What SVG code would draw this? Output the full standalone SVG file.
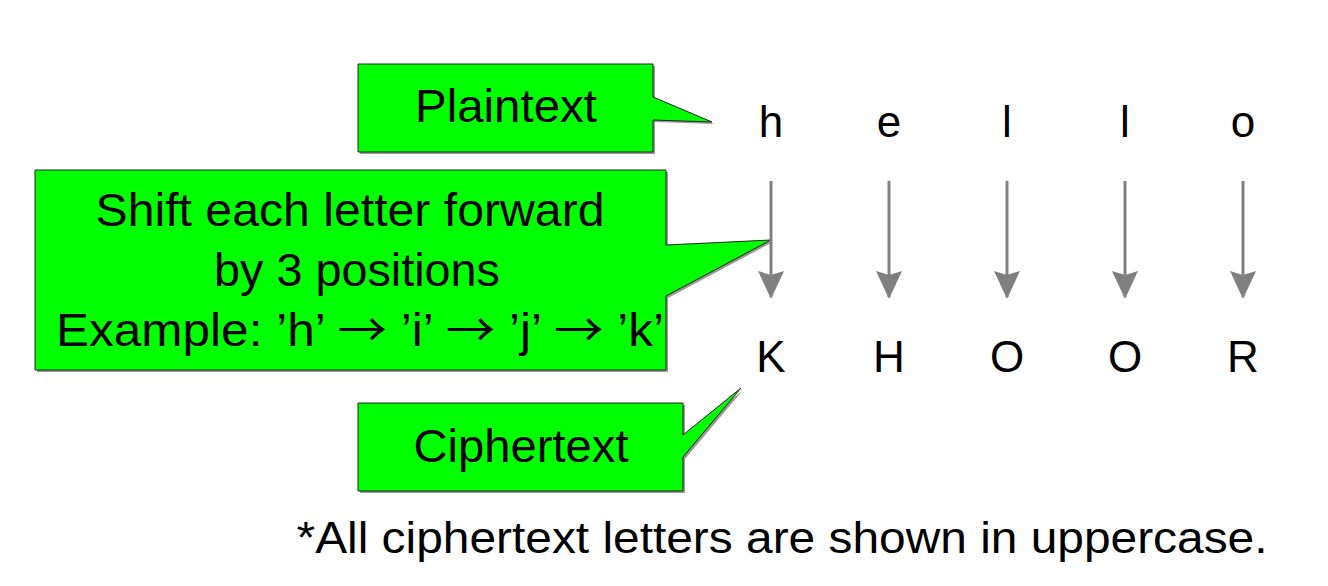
<svg xmlns="http://www.w3.org/2000/svg" width="1328" height="586" viewBox="0 0 1328 586">
<style>
.co{fill:#00ff00;stroke:#222;stroke-width:1}
.sh{fill:#999;stroke:none}
.t{font-family:"Liberation Sans",Arial,sans-serif;fill:#000;text-anchor:middle}
.big{font-size:46px}
.let{font-size:44px}
.cjk{font-family:"Noto Sans CJK JP",sans-serif}
.arr{stroke:#808080;stroke-width:3;fill:none}
</style>
<defs>
<marker id="ah" viewBox="0 0 28 26" refX="26" refY="13" markerWidth="28" markerHeight="26" markerUnits="userSpaceOnUse" orient="auto">
<path d="M0,0 L28,13 L0,26 L4,13 Z" fill="#808080"/>
</marker>
</defs>
<rect width="1328" height="586" fill="#fff"/>
<g id="plaintext-callout">
<path class="sh" d="M360,66 H655 V99 L714,124 L655,122 V154 H360 Z"/>
<path class="co" d="M358,64 H653 V97 L712,122 L653,120 V152 H358 Z"/>
<text class="t big" x="506" y="122" textLength="182" lengthAdjust="spacingAndGlyphs">Plaintext</text>
</g>
<g id="shift-callout">
<path class="sh" d="M37,172 H668 V247 L773,242 L668,298 V372 H37 Z"/>
<path class="co" d="M35,170 H666 V245 L771,240 L666,296 V370 H35 Z"/>
<text class="t big" x="350" y="226" textLength="509" lengthAdjust="spacingAndGlyphs">Shift each letter forward</text>
<text class="t big" x="357" y="286" textLength="286" lengthAdjust="spacingAndGlyphs">by 3 positions</text>
<text class="t big" x="360" y="346" textLength="608" lengthAdjust="spacingAndGlyphs">Example: ’h’ <tspan class="cjk">→</tspan> ’i’ <tspan class="cjk">→</tspan> ’j’ <tspan class="cjk">→</tspan> ’k’</text>
</g>
<g id="ciphertext-callout">
<path class="sh" d="M360,405 H685 V437 L743,390 L685,459 V493 H360 Z"/>
<path class="co" d="M358,403 H683 V435 L741,388 L683,457 V491 H358 Z"/>
<text class="t big" x="521" y="462" textLength="215" lengthAdjust="spacingAndGlyphs">Ciphertext</text>
</g>
<g id="plain-letters">
<text class="t let" x="771" y="137">h</text>
<text class="t let" x="889" y="137">e</text>
<text class="t let" x="1007" y="137">l</text>
<text class="t let" x="1125" y="137">l</text>
<text class="t let" x="1243" y="137">o</text>
</g>
<g id="cipher-letters">
<text class="t let" x="771" y="372">K</text>
<text class="t let" x="889" y="372">H</text>
<text class="t let" x="1007" y="372">O</text>
<text class="t let" x="1125" y="372">O</text>
<text class="t let" x="1243" y="372">R</text>
</g>
<g id="connectors">
<line class="arr" x1="771" y1="181" x2="771" y2="297" marker-end="url(#ah)"/>
<line class="arr" x1="889" y1="181" x2="889" y2="297" marker-end="url(#ah)"/>
<line class="arr" x1="1007" y1="181" x2="1007" y2="297" marker-end="url(#ah)"/>
<line class="arr" x1="1125" y1="181" x2="1125" y2="297" marker-end="url(#ah)"/>
<line class="arr" x1="1243" y1="181" x2="1243" y2="297" marker-end="url(#ah)"/>
</g>
<text id="footnote" class="t" style="font-size:44px" x="782" y="553" textLength="971" lengthAdjust="spacingAndGlyphs">*All ciphertext letters are shown in uppercase.</text>
</svg>
